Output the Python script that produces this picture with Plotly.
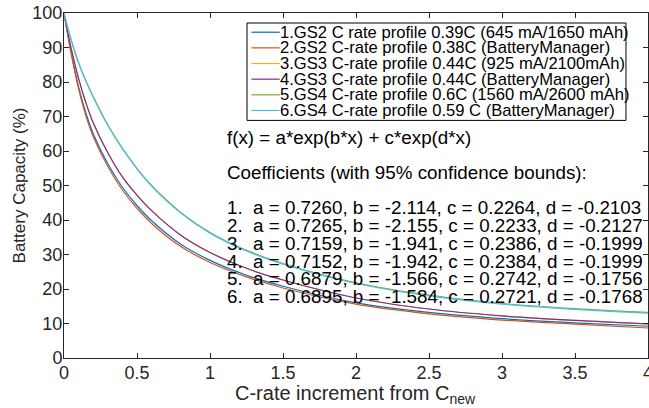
import plotly.graph_objects as go

# ---- data ----
x_vals = [0, 0.05, 0.1, 0.15, 0.2, 0.3, 0.4, 0.5, 0.6, 0.8, 1.0, 1.25, 1.5, 2.0, 2.5, 3.0, 3.5, 4.0]

cap_1 = [100, 88.4, 78.6, 71.0, 65.0, 56.3, 49.5, 44.2, 39.8, 33.0, 28.3, 24.0, 20.8, 16.0, 13.2, 11.4, 10.2, 9.2]
cap_2 = [100, 88.0, 78.0, 70.2, 64.2, 55.5, 48.7, 43.4, 39.0, 32.3, 27.7, 23.5, 20.3, 15.6, 12.8, 11.0, 9.8, 8.7]
cap_3 = [100, 89.5, 81.0, 74.0, 68.2, 59.5, 52.5, 47.2, 42.7, 35.6, 30.6, 26.0, 22.6, 17.4, 14.2, 12.2, 10.9, 9.9]
cap_4 = [100, 89.5, 81.0, 74.0, 68.2, 59.5, 52.5, 47.2, 42.7, 35.6, 30.6, 26.0, 22.6, 17.4, 14.2, 12.2, 10.9, 9.9]
cap_5 = [100, 92.1, 85.6, 80.4, 75.8, 67.6, 60.8, 55.0, 50.0, 42.2, 36.4, 31.2, 27.4, 21.8, 18.2, 15.8, 14.3, 13.2]
cap_6 = [100, 92.0, 85.4, 80.2, 75.6, 67.4, 60.6, 54.8, 49.8, 42.0, 36.2, 31.0, 27.2, 21.6, 18.0, 15.6, 14.1, 13.0]

series_names = [
    "1.GS2 C rate profile 0.39C (645 mA/1650 mAh)",
    "2.GS2 C-rate profile 0.38C (BatteryManager)",
    "3.GS3 C-rate profile 0.44C (925 mA/2100mAh)",
    "4.GS3 C-rate profile 0.44C (BatteryManager)",
    "5.GS4 C-rate profile 0.6C (1560 mA/2600 mAh)",
    "6.GS4 C-rate profile 0.59 C (BatteryManager)",
]

coef_a = ["0.7260", "0.7265", "0.7159", "0.7152", "0.6879", "0.6895"]
coef_b = ["-2.114", "-2.155", "-1.941", "-1.942", "-1.566", "-1.584"]
coef_c = ["0.2264", "0.2233", "0.2386", "0.2384", "0.2742", "0.2721"]
coef_d = ["-0.2103", "-0.2127", "-0.1999", "-0.1999", "-0.1756", "-0.1768"]

x_ticks = [0, 0.5, 1, 1.5, 2, 2.5, 3, 3.5, 4]
x_tick_text = ["0", "0.5", "1", "1.5", "2", "2.5", "3", "3.5", "4"]
y_ticks = [0, 10, 20, 30, 40, 50, 60, 70, 80, 90, 100]

colors = ["#0072BD", "#D95319", "#EDB120", "#7E2F8E", "#77AC30", "#4DBEEE"]
all_caps = [cap_1, cap_2, cap_3, cap_4, cap_5, cap_6]

FONT = "Liberation Sans, Arial, Helvetica, sans-serif"
AX = "#262626"

fig = go.Figure()
for name, ys, col in zip(series_names, all_caps, colors):
    fig.add_trace(go.Scatter(
        x=x_vals, y=ys, mode="lines", name=name,
        line=dict(color=col, width=1.2, shape="spline", smoothing=1.0),
        showlegend=False,
    ))

# ---- custom (MATLAB-like, tight) legend ----
leg_x0, leg_x1 = 0.3134, 0.9623
leg_y0, leg_y1 = 0.6887, 0.971
row_top = 0.9443
row_step = 0.04536
shapes = [dict(type="rect", xref="paper", yref="paper", x0=leg_x0, x1=leg_x1,
               y0=leg_y0, y1=leg_y1, line=dict(color="black", width=1),
               fillcolor="white", layer="above")]
annotations = []
for i, (name, col) in enumerate(zip(series_names, colors)):
    yy = row_top - i * row_step
    shapes.append(dict(type="line", xref="paper", yref="paper",
                       x0=0.3209, x1=0.3695, y0=yy, y1=yy,
                       line=dict(color=col, width=1.2), layer="above"))
    annotations.append(dict(xref="paper", yref="paper", x=0.3680, y=yy,
                            xanchor="left", yanchor="middle", showarrow=False,
                            borderpad=0,
                            text=name, font=dict(family=FONT, size=16.6, color="black")))

# ---- fit description text ----
txt_x = 0.2775
TXT_SIZE = 18.8
annotations.append(dict(xref="paper", yref="paper", x=txt_x, y=0.6386,
                        xanchor="left", yanchor="middle", showarrow=False, borderpad=0,
                        text="f(x) = a*exp(b*x) + c*exp(d*x)",
                        font=dict(family=FONT, size=TXT_SIZE, color="black")))
annotations.append(dict(xref="paper", yref="paper", x=txt_x, y=0.5371,
                        xanchor="left", yanchor="middle", showarrow=False, borderpad=0,
                        text="Coefficients (with 95% confidence bounds):",
                        font=dict(family=FONT, size=TXT_SIZE, color="black")))
for i in range(6):
    line_txt = (f"{i+1}.\u00a0 a = {coef_a[i]}, b = {coef_b[i]}, "
                f"c = {coef_c[i]}, d = {coef_d[i]}")
    annotations.append(dict(xref="paper", yref="paper", x=txt_x, y=0.4357 - i * 0.0516,
                            xanchor="left", yanchor="middle", showarrow=False, borderpad=0,
                            text=line_txt,
                            font=dict(family=FONT, size=TXT_SIZE, color="black")))

# x-axis title (placed tight under the tick labels, as in the reference)
annotations.append(dict(xref="paper", yref="paper", x=0.499, y=-0.0665,
                        xanchor="center", yanchor="top", showarrow=False, borderpad=0,
                        text="C-rate increment from C<sub>new</sub>",
                        font=dict(family=FONT, size=20, color=AX)))

fig.update_layout(
    width=649, height=408,
    margin=dict(l=64, r=1, t=13, b=50, autoexpand=False),
    paper_bgcolor="white", plot_bgcolor="white",
    font=dict(family=FONT, size=18, color=AX),
    shapes=shapes, annotations=annotations,
    showlegend=False,
)
fig.update_xaxes(
    range=[0, 4], tickvals=x_ticks, ticktext=x_tick_text,
    ticks="inside", ticklen=5, tickcolor=AX, tickwidth=1,
    showline=True, linecolor=AX, linewidth=1, mirror="ticks",
    showgrid=False, zeroline=False, automargin=False,
    ticklabelstandoff=-2, ticklabeloverflow="allow",
    tickfont=dict(family=FONT, size=18, color=AX),
)
fig.update_yaxes(
    range=[0, 100], tickvals=y_ticks,
    ticks="inside", ticklen=5, tickcolor=AX, tickwidth=1,
    showline=True, linecolor=AX, linewidth=1, mirror="ticks",
    showgrid=False, zeroline=False, automargin=False,
    ticklabelstandoff=-3, ticklabeloverflow="allow",
    tickfont=dict(family=FONT, size=18, color=AX),
    title=dict(text="Battery Capacity (%)",
               font=dict(family=FONT, size=17, color=AX), standoff=2),
)

fig.write_html(
    "out.html",
    config={"displayModeBar": False},
    post_script="document.body.style.margin='0';document.body.style.overflow='hidden';",
)
